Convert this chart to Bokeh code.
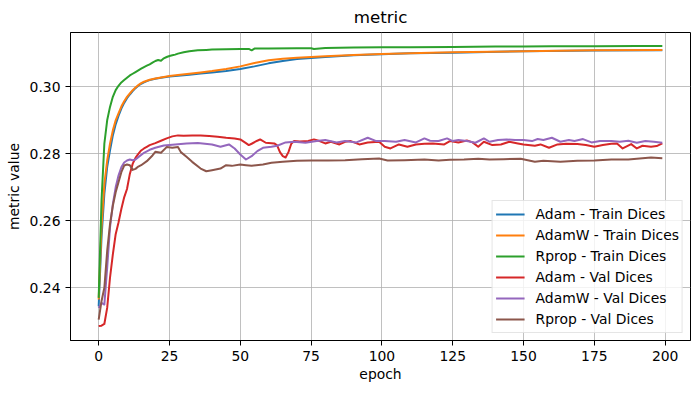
from bokeh.plotting import figure
from bokeh.models import Range1d, FixedTicker, NumeralTickFormatter, Legend
from bokeh.embed import file_html
from bokeh.resources import INLINE

# ---------------- data ----------------
title_text = "metric"
x_label = "epoch"
y_label = "metric value"
x_ticks = [0, 25, 50, 75, 100, 125, 150, 175, 200]
y_ticks = [0.24, 0.26, 0.28, 0.30]

train_epochs = [0, 1, 2, 3, 4, 5, 6, 7, 8, 9, 10, 11, 12, 13, 14, 15, 16, 17, 18, 20,
                22, 25, 28, 32, 36, 40, 45, 50, 55, 60, 65, 70, 75, 80, 90, 100, 110,
                125, 150, 175, 199]
adam_train = [0.2345, 0.255, 0.268, 0.276, 0.281, 0.2855, 0.2888, 0.2913, 0.2935, 0.2952,
              0.2966, 0.2977, 0.2987, 0.2996, 0.3003, 0.3009, 0.3013, 0.3017, 0.3020, 0.3024,
              0.3027, 0.3031, 0.3033, 0.3036, 0.3040, 0.3043, 0.3047, 0.3053, 0.3061, 0.3070,
              0.3077, 0.3083, 0.3086, 0.3089, 0.3094, 0.3097, 0.3100, 0.3102, 0.3106, 0.3108,
              0.3109]
adamw_train = [0.2365, 0.258, 0.271, 0.278, 0.283, 0.287, 0.2900, 0.2921, 0.2941, 0.2957,
               0.2970, 0.2980, 0.2990, 0.2998, 0.3005, 0.3011, 0.3015, 0.3018, 0.3021, 0.3025,
               0.3028, 0.3032, 0.3035, 0.3039, 0.3043, 0.3047, 0.3053, 0.3061, 0.3071, 0.3079,
               0.3084, 0.3087, 0.3089, 0.3091, 0.3095, 0.3098, 0.3100, 0.3103, 0.3106, 0.3109,
               0.3110]

rprop_train_epochs = [0, 1, 2, 3, 4, 5, 6, 7, 8, 9, 10, 11, 12, 13, 14, 15, 16, 17, 18, 19,
                      20, 21, 22, 23, 24, 25, 26, 27, 28, 30, 32, 35, 38, 40, 45, 50, 53, 54,
                      55, 60, 70, 75, 76, 80, 90, 100, 110, 125, 140, 150, 160, 175, 190, 199]
rprop_train = [0.2370, 0.2660, 0.2830, 0.2900, 0.2940, 0.2970, 0.2990, 0.3003, 0.3013, 0.3020,
               0.3027, 0.3034, 0.3039, 0.3044, 0.3049, 0.3054, 0.3059, 0.3063, 0.3067, 0.3072,
               0.3077, 0.3080, 0.3078, 0.3085, 0.3089, 0.3092, 0.3094, 0.3096, 0.3099, 0.3103,
               0.3106, 0.3109, 0.3110, 0.3111, 0.3112, 0.3113, 0.3113, 0.3109, 0.3114, 0.3114,
               0.3115, 0.3115, 0.3113, 0.3116, 0.3117, 0.3118, 0.3118, 0.3119, 0.3120, 0.3120,
               0.3121, 0.3121, 0.3122, 0.3122]

adam_val_epochs = [0, 1, 2, 3, 4, 5, 6, 7, 8, 9, 10, 11, 12, 13, 14, 15, 16, 17, 18, 20, 22,
                   24, 26, 28, 30, 33, 36, 39, 42, 45, 48, 50, 52, 53, 54, 56, 57, 59, 62, 63,
                   64, 65, 66, 67, 68, 69, 71, 74, 76, 78, 80, 82, 85, 87, 89, 92, 95, 99, 101,
                   103, 106, 109, 112, 115, 118, 122, 124, 127, 130, 132, 134, 136, 139, 142,
                   145, 148, 150, 154, 156, 159, 162, 165, 169, 172, 175, 178, 181, 183, 185,
                   188, 190, 192, 195, 197, 199]
adam_val = [0.2286, 0.2287, 0.2292, 0.2340, 0.2430, 0.2500, 0.2560, 0.2595, 0.2635, 0.2670,
            0.2695, 0.2740, 0.2770, 0.2788, 0.2800, 0.2810, 0.2816, 0.2821, 0.2826, 0.2832,
            0.2839, 0.2846, 0.2852, 0.2855, 0.2854, 0.2855, 0.2855, 0.2853, 0.2851, 0.2848,
            0.2846, 0.2843, 0.2832, 0.2826, 0.2830, 0.2839, 0.2843, 0.2833, 0.2831, 0.2825,
            0.2805, 0.2793, 0.2789, 0.2805, 0.2830, 0.2838, 0.2837, 0.2838, 0.2843, 0.2838,
            0.2831, 0.2836, 0.2828, 0.2836, 0.2838, 0.2828, 0.2834, 0.2836, 0.2821, 0.2816,
            0.2828, 0.2821, 0.2828, 0.2830, 0.2831, 0.2828, 0.2838, 0.2834, 0.2840, 0.2834,
            0.2821, 0.2836, 0.2826, 0.2828, 0.2836, 0.2831, 0.2828, 0.2824, 0.2828, 0.2818,
            0.2828, 0.2830, 0.2829, 0.2826, 0.2821, 0.2826, 0.2830, 0.2831, 0.2816, 0.2829,
            0.2816, 0.2824, 0.2821, 0.2823, 0.2831]

adamw_val_epochs = [0, 1, 2, 3, 4, 5, 6, 7, 8, 9, 10, 11, 12, 13, 14, 16, 18, 20, 23, 27, 31,
                    35, 40, 43, 46, 48, 50, 52, 54, 56, 58, 61, 63, 66, 69, 73, 77, 80, 84, 87,
                    91, 95, 98, 101, 105, 108, 112, 115, 117, 120, 123, 125, 127, 130, 133,
                    136, 138, 141, 144, 147, 150, 153, 155, 157, 160, 163, 166, 168, 171, 174,
                    177, 181, 184, 187, 190, 193, 196, 199]
adamw_val = [0.2340, 0.2355, 0.2350, 0.2460, 0.2580, 0.2650, 0.2700, 0.2735, 0.2760, 0.2774,
             0.2780, 0.2783, 0.2781, 0.2783, 0.2790, 0.2803, 0.2812, 0.2818, 0.2825, 0.2828,
             0.2831, 0.2832, 0.2828, 0.2821, 0.2828, 0.2816, 0.2798, 0.2783, 0.2793, 0.2808,
             0.2818, 0.2821, 0.2824, 0.2834, 0.2836, 0.2833, 0.2838, 0.2841, 0.2834, 0.2838,
             0.2834, 0.2848, 0.2838, 0.2838, 0.2836, 0.2841, 0.2834, 0.2846, 0.2839, 0.2838,
             0.2846, 0.2838, 0.2841, 0.2838, 0.2833, 0.2846, 0.2836, 0.2841, 0.2843, 0.2841,
             0.2841, 0.2838, 0.2844, 0.2841, 0.2848, 0.2836, 0.2841, 0.2838, 0.2844, 0.2834,
             0.2838, 0.2838, 0.2836, 0.2839, 0.2833, 0.2838, 0.2836, 0.2833]

rprop_val_epochs = [0, 1, 2, 3, 4, 5, 6, 7, 8, 9, 10, 11, 12, 13, 14, 15, 17, 19, 20, 22, 24,
                    26, 28, 29, 31, 33, 36, 38, 40, 43, 45, 47, 50, 52, 54, 58, 61, 65, 70, 75,
                    81, 87, 93, 99, 102, 108, 115, 120, 124, 129, 134, 138, 143, 149, 154, 157,
                    163, 169, 175, 181, 187, 191, 195, 199]
rprop_val = [0.2305, 0.2360, 0.2400, 0.2510, 0.2590, 0.2645, 0.2685, 0.2715, 0.2745, 0.2765,
             0.2768, 0.2766, 0.2752, 0.2755, 0.2762, 0.2766, 0.2778, 0.2795, 0.2806, 0.2803,
             0.2820, 0.2818, 0.2820, 0.2805, 0.2791, 0.2776, 0.2756, 0.2748, 0.2751, 0.2756,
             0.2766, 0.2764, 0.2768, 0.2766, 0.2764, 0.2768, 0.2773, 0.2776, 0.2779, 0.2780,
             0.2780, 0.2781, 0.2784, 0.2786, 0.2780, 0.2781, 0.2783, 0.2780, 0.2782, 0.2783,
             0.2785, 0.2783, 0.2784, 0.2785, 0.2776, 0.2779, 0.2776, 0.2779, 0.2780, 0.2783,
             0.2783, 0.2786, 0.2789, 0.2787]

series = [
    ("Adam - Train Dices", train_epochs, adam_train, "#1f77b4"),
    ("AdamW - Train Dices", train_epochs, adamw_train, "#ff7f0e"),
    ("Rprop - Train Dices", rprop_train_epochs, rprop_train, "#2ca02c"),
    ("Adam - Val Dices", adam_val_epochs, adam_val, "#d62728"),
    ("AdamW - Val Dices", adamw_val_epochs, adamw_val, "#9467bd"),
    ("Rprop - Val Dices", rprop_val_epochs, rprop_val, "#8c564b"),
]

# ---------------- figure ----------------
FONT = "DejaVu Sans"
p = figure(output_backend="svg", toolbar_location=None,
           width=700, height=393,
           min_border_left=70, min_border_right=10, min_border_top=32, min_border_bottom=53,
           x_range=Range1d(-9.95, 208.95), y_range=Range1d(0.22427, 0.31621),
           title=title_text)
p.background_fill_color = "white"
p.border_fill_color = "white"
p.outline_line_color = "black"
p.outline_line_width = 1
p.outline_line_alpha = 1

p.title.align = "center"
p.title.text_font = FONT
p.title.text_font_size = "16.7px"
p.title.text_font_style = "normal"
p.title.text_color = "black"
p.title.standoff = 10
p.title.vertical_align = "middle"

for ax in (p.xaxis[0], p.yaxis[0]):
    ax.major_label_text_font = FONT
    ax.major_label_text_font_size = "13.9px"
    ax.major_label_text_color = "black"
    ax.axis_label_text_font = FONT
    ax.axis_label_text_font_size = "13.9px"
    ax.axis_label_text_font_style = "normal"
    ax.axis_label_text_color = "black"
    ax.major_tick_out = 5
    ax.major_tick_in = 0
    ax.minor_tick_out = 0
    ax.minor_tick_in = 0
    ax.axis_line_color = "black"
    ax.major_tick_line_color = "black"
    ax.major_label_standoff = 5
    ax.axis_label_standoff = 5
p.xaxis[0].axis_label_standoff = 2

p.xaxis.axis_label = x_label
p.yaxis.axis_label = y_label
p.xaxis.ticker = FixedTicker(ticks=x_ticks)
p.yaxis.ticker = FixedTicker(ticks=y_ticks)
p.yaxis.formatter = NumeralTickFormatter(format="0.00")
p.xgrid.ticker = FixedTicker(ticks=x_ticks)
p.ygrid.ticker = FixedTicker(ticks=y_ticks)
for g in (p.xgrid[0], p.ygrid[0]):
    g.grid_line_color = "#b0b0b0"
    g.grid_line_width = 0.8

items = []
for label, xs, ys, color in series:
    r = p.line(xs, ys, line_color=color, line_width=2, line_join="round")
    items.append((label, [r]))

legend = Legend(items=items, location="bottom_right")
legend.label_text_font = FONT
legend.label_text_font_size = "13.9px"
legend.label_text_color = "black"
legend.padding = 3
legend.spacing = 1
legend.margin = 7
legend.label_height = 20
legend.glyph_height = 20
legend.glyph_width = 29
legend.label_standoff = 11
legend.border_line_color = "#cccccc"
legend.border_line_width = 1
legend.background_fill_alpha = 0.8
p.add_layout(legend, "center")

open("out.html", "w").write(file_html(p, INLINE))
